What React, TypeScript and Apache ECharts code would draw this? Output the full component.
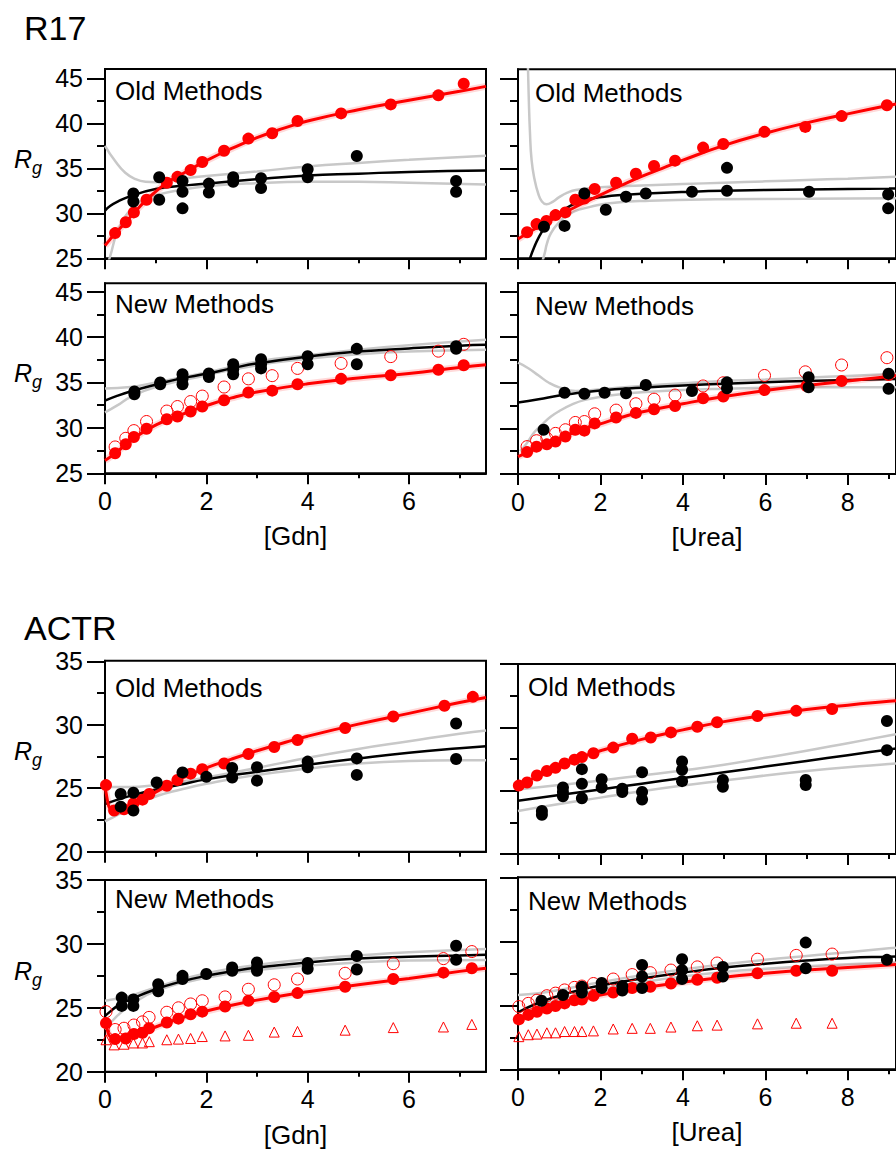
import React, { useEffect, useRef } from "react";
import * as echarts from "echarts";

const FONT = '"Liberation Sans", Arial, Helvetica, sans-serif';

// ---------- tick values ----------
const xMajorGdn = [0, 2, 4, 6];
const xMinorGdn = [1, 3, 5, 7];
const xMajorUrea = [0, 2, 4, 6, 8];
const xMinorUrea = [1, 3, 5, 7, 9];
const yMajorR17 = [25, 30, 35, 40, 45];
const yMinorR17 = [27.5, 32.5, 37.5, 42.5];
const yMajorACTR = [20, 25, 30, 35];
const yMinorACTR = [22.5, 27.5, 32.5];

// ---------- R17, Old Methods, [Gdn] ----------
const r17OldGdnBlack = [[0.56,32.2],[0.56,31.3],[1.07,34.0],[1.07,31.5],[1.53,33.6],[1.53,32.4],[1.53,30.55],[2.05,33.3],[2.05,32.3],[2.53,34.0],[2.53,33.5],[3.08,33.9],[3.08,32.8],[4.0,34.9],[4.0,34.0],[4.97,36.37],[6.93,33.6],[6.93,32.4]];
const r17OldGdnRed = [[0.2,27.8],[0.41,29.0],[0.57,30.1],[0.82,31.5],[1.22,33.4],[1.43,34.05],[1.69,34.8],[1.92,35.7],[2.35,36.95],[2.83,38.3],[3.3,38.9],[3.8,40.25],[4.66,41.1],[5.64,42.1],[6.58,43.1],[7.08,44.4]];
const r17OldGdnFitBlack = [[0,30.3],[0.1,30.8],[0.25,31.3],[0.5,31.9],[1,32.7],[1.5,33.05],[2,33.3],[3,33.8],[4,34.2],[5,34.4],[6,34.6],[7.52,34.75]];
const r17OldGdnFitRed = [[0,26.4],[0.1,27.1],[0.2,27.75],[0.4,28.95],[0.6,30.2],[0.8,31.4],[1,32.4],[1.25,33.5],[1.5,34.3],[2,35.85],[2.5,37.2],[3,38.4],[3.5,39.4],[4,40.25],[5,41.5],[6,42.55],[7,43.55],[7.52,44.1]];
const r17OldGdnHi = [[0,37.5],[0.2,35.8],[0.4,34.5],[0.6,33.8],[0.8,33.5],[1.0,33.45],[1.5,33.85],[2,34.15],[3,34.65],[4,35.2],[5,35.6],[6,35.95],[7.52,36.4]];
const r17OldGdnLo = [[0,23.5],[0.1,25.2],[0.25,28.0],[0.5,30.4],[0.75,31.5],[1,32.0],[1.5,32.6],[2,33.0],[3,33.35],[4,33.5],[5,33.5],[6,33.4],[7.52,33.2]];

// ---------- R17, New Methods, [Gdn] ----------
const r17NewGdnBlack = [[0.58,34.0],[0.58,33.7],[1.09,35.0],[1.09,34.8],[1.53,35.9],[1.53,35.4],[1.53,34.8],[2.05,36.0],[2.05,35.6],[2.53,37.0],[2.53,36.45],[2.53,35.9],[3.08,37.55],[3.08,37.0],[3.08,36.55],[4.0,37.9],[4.0,37.0],[4.97,38.7],[4.97,37.0],[6.93,39.0],[6.93,38.7]];
const r17NewGdnRed = [[0.2,27.2],[0.41,28.2],[0.57,29.0],[0.82,29.9],[1.22,30.95],[1.43,31.25],[1.69,31.8],[1.92,32.35],[2.35,33.05],[2.83,33.9],[3.3,34.1],[3.8,34.8],[4.66,35.4],[5.64,35.8],[6.58,36.4],[7.08,36.9]];
const r17NewGdnOpen = [[0.2,27.9],[0.41,28.85],[0.57,29.7],[0.82,30.7],[1.22,31.85],[1.43,32.35],[1.69,32.9],[1.92,33.5],[2.35,34.5],[2.83,35.4],[3.3,35.75],[3.8,36.55],[4.66,37.1],[5.64,37.85],[6.58,38.45],[7.08,39.2]];
const r17NewGdnFitBlack = [[0,33.0],[0.25,33.55],[0.5,34.0],[1,34.75],[1.5,35.45],[2,35.95],[2.5,36.55],[3,37.1],[4,37.85],[5,38.4],[6,38.75],[7,39.05],[7.52,39.15]];
const r17NewGdnFitRed = [[0,26.4],[0.2,27.2],[0.4,28.1],[0.6,28.95],[0.8,29.7],[1,30.3],[1.25,30.95],[1.5,31.45],[2,32.45],[2.5,33.3],[3,33.95],[4,34.85],[5,35.5],[6,36.0],[7,36.65],[7.52,36.95]];
const r17NewGdnHi = [[0,34.35],[0.5,34.5],[1,35.0],[2,36.1],[3,37.3],[4,38.0],[5,38.6],[6,39.1],[7.52,39.7]];
const r17NewGdnLo = [[0,31.7],[0.25,32.5],[0.5,33.4],[1,34.5],[2,35.8],[3,36.9],[4,37.6],[5,38.1],[6,38.4],[7.52,38.6]];

// ---------- R17, Old Methods, [Urea] ----------
const r17OldUreaBlack = [[0.63,28.5],[1.13,28.6],[1.61,32.2],[2.13,30.4],[2.62,31.85],[3.1,32.2],[4.22,32.4],[5.07,35.05],[5.07,32.5],[7.06,32.4],[8.98,32.1],[8.98,30.55]];
const r17OldUreaRed = [[0.22,27.9],[0.45,28.8],[0.69,29.15],[0.91,29.8],[1.15,30.1],[1.39,31.5],[1.61,31.65],[1.86,32.7],[2.38,33.4],[2.86,34.4],[3.3,35.25],[3.81,35.85],[4.49,37.3],[4.98,37.7],[5.98,39.05],[6.97,39.6],[7.85,40.8],[8.95,42.0]];
const r17OldUreaFitBlack = [[0.27,24.5],[0.3,25.1],[0.4,26.3],[0.5,27.3],[0.63,28.3],[0.8,29.3],[1.0,30.0],[1.3,30.9],[1.6,31.45],[2.1,31.85],[2.6,32.05],[3.1,32.2],[4.2,32.4],[5,32.5],[7,32.65],[9,32.75],[9.17,32.76]];
const r17OldUreaFitRed = [[0,27.15],[0.5,28.5],[1,29.75],[1.5,30.95],[2,32.05],[2.5,33.1],[3,34.1],[3.5,35.0],[4,35.9],[5,37.55],[6,38.9],[7,40.05],[8,41.05],[9,42.0],[9.17,42.15]];
const r17OldUreaHi = [[0.24,46.5],[0.26,43],[0.29,39],[0.33,35.9],[0.4,33.8],[0.49,32.2],[0.58,31.3],[0.69,31.0],[0.85,31.3],[1.0,31.8],[1.2,32.3],[1.4,32.6],[2,32.9],[3,33.1],[4,33.25],[5,33.4],[6,33.55],[7,33.7],[8,33.85],[9.17,34.05]];
const r17OldUreaLo = [[0.58,24.5],[0.65,25.6],[0.7,26.6],[0.8,27.8],[1.0,29.0],[1.2,29.8],[1.6,30.55],[2.4,31.2],[3.2,31.4],[4.8,31.55],[7,31.62],[9.17,31.68]];

// ---------- R17, New Methods, [Urea] ----------
const r17NewUreaBlack = [[0.62,29.85],[1.13,33.9],[1.61,33.8],[2.1,33.9],[2.62,33.85],[3.1,34.75],[4.22,34.1],[5.07,35.05],[5.07,34.4],[7.05,35.6],[7.05,34.5],[8.99,36.0],[8.99,34.35]];
const r17NewUreaRed = [[0.22,27.4],[0.45,28.0],[0.7,28.25],[0.91,28.55],[1.15,29.1],[1.39,29.85],[1.61,29.75],[1.86,30.55],[2.38,31.2],[2.86,31.7],[3.3,32.1],[3.81,32.45],[4.49,33.3],[4.98,33.5],[5.98,34.2],[7.0,34.65],[7.85,35.2],[8.99,35.85]];
const r17NewUreaOpen = [[0.22,28.0],[0.45,28.65],[0.7,28.9],[0.91,29.45],[1.15,29.85],[1.39,30.65],[1.61,30.75],[1.86,31.6],[2.38,32.0],[2.86,32.7],[3.3,33.2],[3.81,33.65],[4.49,34.65],[4.98,35.0],[5.98,35.8],[6.97,36.2],[7.85,36.95],[8.95,37.75]];
const r17NewUreaFitBlack = [[0,32.85],[0.5,33.2],[1,33.6],[1.5,33.9],[2,34.15],[3,34.45],[4,34.7],[5,34.9],[6,35.05],[7,35.2],[8,35.3],[9.17,35.42]];
const r17NewUreaFitRed = [[0,26.9],[0.25,27.4],[0.5,27.9],[1,28.9],[1.5,29.8],[2,30.5],[2.5,31.2],[3,31.8],[4,32.7],[5,33.5],[6,34.15],[7,34.7],[8,35.2],[9,35.7],[9.17,35.8]];
const r17NewUreaHi = [[0,37.2],[0.25,36.6],[0.5,35.8],[0.75,35.0],[1.0,34.5],[1.4,34.1],[2,34.3],[3,34.65],[4,34.95],[5,35.2],[6,35.35],[7,35.55],[8,35.75],[9.17,36.0]];
const r17NewUreaLo = [[0.05,27.5],[0.2,28.3],[0.4,29.6],[0.6,30.5],[0.8,31.3],[1.0,31.9],[1.3,32.6],[1.6,33.1],[2,33.45],[2.5,33.75],[3,33.95],[4,34.2],[5,34.35],[6,34.45],[7,34.5],[9.17,34.5]];

// ---------- ACTR, Old Methods, [Gdn] ----------
const actrOldGdnBlack = [[0.31,24.55],[0.31,23.55],[0.56,24.65],[0.56,23.25],[1.02,25.45],[1.53,26.25],[2.0,25.9],[2.51,26.6],[2.51,25.85],[3.0,26.65],[3.0,25.6],[4.0,27.1],[4.0,26.65],[4.97,27.35],[4.97,26.05],[6.93,30.1],[6.93,27.3]];
const actrOldGdnRed = [[0.02,25.25],[0.18,23.25],[0.375,23.35],[0.56,23.8],[0.74,24.1],[0.875,24.55],[1.22,25.2],[1.43,25.65],[1.69,26.15],[1.92,26.5],[2.35,26.95],[2.83,27.7],[3.34,28.25],[3.8,28.8],[4.74,29.75],[5.69,30.65],[6.7,31.5],[7.26,32.2]];
const actrOldGdnFitBlack = [[0,23.75],[0.25,24.1],[0.5,24.4],[1,24.9],[1.5,25.3],[2,25.7],[3,26.3],[4,26.85],[5,27.35],[6,27.8],[7,28.15],[7.52,28.3]];
const actrOldGdnFitRed = [[0,25.3],[0.05,24.0],[0.1,23.4],[0.2,23.15],[0.3,23.2],[0.5,23.6],[0.75,24.15],[1,24.7],[1.5,25.75],[2,26.6],[2.5,27.3],[3,27.95],[3.5,28.55],[4,29.1],[5,30.05],[6,30.9],[7,31.75],[7.52,32.15]];
const actrOldGdnHi = [[0,25.1],[0.5,25.1],[1,25.25],[1.5,25.5],[2,25.85],[3,26.6],[4,27.4],[5,28.1],[6,28.7],[7,29.3],[7.52,29.55]];
const actrOldGdnLo = [[0,22.4],[0.25,22.9],[0.5,23.5],[1,24.35],[1.5,24.9],[2,25.35],[3,26.05],[4,26.55],[5,26.95],[6,27.15],[7,27.2],[7.52,27.2]];

// ---------- ACTR, Old Methods, [Urea] ----------
const actrOldUreaBlack = [[0.58,23.4],[0.58,23.1],[1.09,25.25],[1.09,24.9],[1.09,24.55],[1.55,26.7],[1.55,25.55],[1.55,24.4],[2.03,25.9],[2.03,25.25],[2.53,25.15],[2.53,24.9],[3.01,26.45],[3.01,24.9],[3.01,24.3],[3.98,27.3],[3.98,26.65],[3.98,25.75],[4.97,25.85],[4.97,25.3],[6.98,25.85],[6.98,25.45],[8.95,30.5],[8.95,28.2]];
const actrOldUreaRed = [[0.02,25.4],[0.22,25.65],[0.46,26.2],[0.7,26.55],[0.91,26.8],[1.13,27.15],[1.37,27.45],[1.55,27.65],[1.83,27.95],[2.31,28.4],[2.77,29.1],[3.22,29.2],[3.71,29.6],[4.35,30.05],[4.83,30.4],[5.81,30.9],[6.75,31.3],[7.62,31.45]];
const actrOldUreaFitBlack = [[0,24.2],[1,24.65],[2,25.1],[3,25.55],[4,26.0],[5,26.45],[6,26.9],[7,27.35],[8,27.8],[9,28.25],[9.17,28.33]];
const actrOldUreaFitRed = [[0,25.3],[0.5,26.2],[1,26.95],[1.5,27.6],[2,28.15],[3,29.05],[4,29.8],[5,30.45],[6,30.95],[7,31.4],[8,31.75],[9,32.05],[9.17,32.1]];
const actrOldUreaHi = [[0,25.1],[1,25.45],[2,25.8],[3,26.2],[4,26.6],[5,27.05],[6,27.6],[7,28.15],[8,28.75],[9,29.35],[9.17,29.45]];
const actrOldUreaLo = [[0,23.4],[1,23.95],[2,24.45],[3,24.95],[4,25.4],[5,25.8],[6,26.2],[7,26.55],[8,26.85],[9,27.1],[9.17,27.15]];

// ---------- ACTR, New Methods, [Gdn] ----------
const actrNewGdnBlack = [[0.33,25.8],[0.33,25.15],[0.56,25.65],[0.56,25.15],[1.05,26.85],[1.05,26.3],[1.53,27.5],[1.53,27.25],[2.0,27.65],[2.51,28.15],[2.51,27.9],[3.0,28.55],[3.0,28.15],[3.0,27.9],[4.0,28.5],[4.0,28.05],[4.97,29.05],[4.97,28.0],[6.93,29.85],[6.93,28.75]];
const actrNewGdnRed = [[0.02,23.8],[0.2,22.55],[0.41,22.6],[0.57,22.95],[0.74,23.05],[0.87,23.4],[1.22,23.85],[1.45,24.15],[1.69,24.5],[1.92,24.7],[2.37,25.1],[2.83,25.55],[3.34,25.85],[3.8,26.15],[4.74,26.65],[5.69,27.25],[6.68,27.75],[7.24,28.1]];
const actrNewGdnOpen = [[0.02,24.7],[0.2,23.3],[0.375,23.4],[0.57,23.65],[0.74,23.9],[0.87,24.25],[1.22,24.65],[1.45,25.0],[1.69,25.3],[1.92,25.55],[2.37,25.85],[2.83,26.45],[3.34,26.8],[3.8,27.25],[4.74,27.7],[5.69,28.45],[6.68,28.85],[7.24,29.4]];
const actrNewGdnTri = [[0.02,22.5],[0.18,22.1],[0.375,22.15],[0.56,22.25],[0.74,22.25],[0.875,22.35],[1.22,22.5],[1.45,22.55],[1.69,22.6],[1.92,22.75],[2.37,22.8],[2.83,22.85],[3.34,23.1],[3.8,23.15],[4.74,23.25],[5.69,23.45],[6.68,23.5],[7.24,23.7]];
const actrNewGdnFitBlack = [[0,24.35],[0.1,24.7],[0.25,25.15],[0.5,25.65],[1,26.45],[1.5,27.05],[2,27.5],[2.5,27.85],[3,28.15],[4,28.55],[5,28.85],[6,29.0],[7,29.1],[7.52,29.15]];
const actrNewGdnFitRed = [[0,23.9],[0.05,23.2],[0.1,22.75],[0.2,22.6],[0.4,22.7],[0.6,22.9],[0.8,23.2],[1,23.5],[1.5,24.2],[2,24.75],[2.5,25.2],[3,25.6],[3.5,25.95],[4,26.25],[5,26.8],[6,27.3],[7,27.85],[7.52,28.1]];
const actrNewGdnHi = [[0,25.55],[0.5,25.95],[1,26.6],[2,27.7],[3,28.35],[4,28.8],[5,29.1],[6,29.35],[7.52,29.6]];
const actrNewGdnLo = [[0,23.3],[0.25,24.4],[0.5,25.2],[1,26.3],[2,27.35],[3,27.95],[4,28.3],[5,28.55],[6,28.7],[7.52,28.75]];

// ---------- ACTR, New Methods, [Urea] ----------
const actrNewUreaBlack = [[0.57,25.35],[1.09,25.8],[1.55,26.45],[1.55,26.0],[2.03,26.75],[2.03,26.35],[2.53,26.5],[2.53,26.15],[3.01,28.15],[3.01,27.25],[3.01,26.35],[3.98,28.6],[3.98,27.75],[3.98,27.05],[4.97,28.0],[4.97,27.25],[6.98,29.9],[6.98,27.9],[8.95,28.55]];
const actrNewUreaRed = [[0.02,23.9],[0.25,24.25],[0.46,24.5],[0.7,24.75],[0.91,24.95],[1.13,25.15],[1.37,25.4],[1.55,25.45],[1.83,25.75],[2.31,26.0],[2.77,26.35],[3.21,26.45],[3.71,26.7],[4.35,27.0],[4.83,27.15],[5.81,27.5],[6.75,27.7],[7.62,27.7]];
const actrNewUreaOpen = [[0.02,24.9],[0.25,25.15],[0.46,25.4],[0.7,25.75],[0.91,25.95],[1.13,26.2],[1.37,26.4],[1.55,26.5],[1.83,26.7],[2.31,27.05],[2.77,27.4],[3.21,27.55],[3.71,27.75],[4.35,28.0],[4.83,28.3],[5.81,28.6],[6.75,28.9],[7.62,29.0]];
const actrNewUreaTri = [[0.02,22.55],[0.25,22.7],[0.46,22.75],[0.7,22.85],[0.91,22.85],[1.13,22.95],[1.37,22.95],[1.55,22.95],[1.83,23.0],[2.31,23.15],[2.77,23.2],[3.21,23.2],[3.71,23.3],[4.35,23.4],[4.83,23.45],[5.81,23.55],[6.75,23.6],[7.62,23.6]];
const actrNewUreaFitBlack = [[0,24.45],[0.5,25.2],[1,25.75],[1.5,26.2],[2,26.55],[3,27.1],[4,27.55],[5,27.95],[6,28.25],[7,28.5],[8,28.7],[9,28.8],[9.17,28.82]];
const actrNewUreaFitRed = [[0,23.7],[0.25,24.2],[0.5,24.5],[1,25.0],[1.5,25.4],[2,25.8],[3,26.35],[4,26.8],[5,27.2],[6,27.5],[7,27.75],[8,27.95],[9,28.15],[9.17,28.18]];
const actrNewUreaHi = [[0,25.8],[0.5,25.95],[1,26.2],[2,26.8],[3,27.35],[4,27.8],[5,28.2],[6,28.55],[7,28.85],[8,29.15],[9,29.45],[9.17,29.5]];
const actrNewUreaLo = [[0,23.5],[0.25,24.4],[0.5,24.9],[1,25.45],[2,26.25],[3,26.8],[4,27.25],[5,27.6],[6,27.85],[7,28.05],[8,28.2],[9,28.3],[9.17,28.32]];

// ---------- panel layout ----------
type Panel = {
  left: number; top: number; width: number; height: number;
  xmax: number; ymin: number; ymax: number;
  xMajor: number[]; xMinor: number[]; yMajor: number[]; yMinor: number[];
  showX: boolean; showY: boolean; xName: string; label: string; labelX: number; labelY: number;
  black: number[][]; red: number[][]; open?: number[][]; tri?: number[][];
  fitBlack: number[][]; fitRed: number[][]; hi: number[][]; lo: number[][];
};

const panels: Panel[] = [
  { left: 105, top: 69, width: 381, height: 189.3, xmax: 7.52, ymin: 25, ymax: 46.03, xMajor: xMajorGdn, xMinor: xMinorGdn, yMajor: yMajorR17, yMinor: yMinorR17, showX: false, showY: true, xName: "", label: "Old Methods", labelX: 115, labelY: 91,
    black: r17OldGdnBlack, red: r17OldGdnRed, fitBlack: r17OldGdnFitBlack, fitRed: r17OldGdnFitRed, hi: r17OldGdnHi, lo: r17OldGdnLo },
  { left: 518, top: 69.3, width: 382, height: 189, xmax: 9.17, ymin: 25, ymax: 46.0, xMajor: xMajorUrea, xMinor: xMinorUrea, yMajor: yMajorR17, yMinor: yMinorR17, showX: false, showY: false, xName: "", label: "Old Methods", labelX: 535, labelY: 92.5,
    black: r17OldUreaBlack, red: r17OldUreaRed, fitBlack: r17OldUreaFitBlack, fitRed: r17OldUreaFitRed, hi: r17OldUreaHi, lo: r17OldUreaLo },
  { left: 105, top: 283.3, width: 381, height: 190, xmax: 7.52, ymin: 25, ymax: 45.92, xMajor: xMajorGdn, xMinor: xMinorGdn, yMajor: yMajorR17, yMinor: yMinorR17, showX: true, showY: true, xName: "[Gdn]", label: "New Methods", labelX: 115, labelY: 304,
    black: r17NewGdnBlack, red: r17NewGdnRed, open: r17NewGdnOpen, fitBlack: r17NewGdnFitBlack, fitRed: r17NewGdnFitRed, hi: r17NewGdnHi, lo: r17NewGdnLo },
  { left: 518, top: 283, width: 382, height: 191, xmax: 9.17, ymin: 25, ymax: 45.94, xMajor: xMajorUrea, xMinor: xMinorUrea, yMajor: yMajorR17, yMinor: yMinorR17, showX: true, showY: false, xName: "[Urea]", label: "New Methods", labelX: 535, labelY: 306,
    black: r17NewUreaBlack, red: r17NewUreaRed, open: r17NewUreaOpen, fitBlack: r17NewUreaFitBlack, fitRed: r17NewUreaFitRed, hi: r17NewUreaHi, lo: r17NewUreaLo },
  { left: 105, top: 660.7, width: 381, height: 191, xmax: 7.52, ymin: 20, ymax: 35.05, xMajor: xMajorGdn, xMinor: xMinorGdn, yMajor: yMajorACTR, yMinor: yMinorACTR, showX: false, showY: true, xName: "", label: "Old Methods", labelX: 115, labelY: 688,
    black: actrOldGdnBlack, red: actrOldGdnRed, fitBlack: actrOldGdnFitBlack, fitRed: actrOldGdnFitRed, hi: actrOldGdnHi, lo: actrOldGdnLo },
  { left: 518, top: 664, width: 382, height: 190, xmax: 9.17, ymin: 20, ymax: 35, xMajor: xMajorUrea, xMinor: xMinorUrea, yMajor: yMajorACTR, yMinor: yMinorACTR, showX: false, showY: false, xName: "", label: "Old Methods", labelX: 528, labelY: 686.5,
    black: actrOldUreaBlack, red: actrOldUreaRed, fitBlack: actrOldUreaFitBlack, fitRed: actrOldUreaFitRed, hi: actrOldUreaHi, lo: actrOldUreaLo },
  { left: 105, top: 880, width: 381, height: 191.7, xmax: 7.52, ymin: 20, ymax: 35, xMajor: xMajorGdn, xMinor: xMinorGdn, yMajor: yMajorACTR, yMinor: yMinorACTR, showX: true, showY: true, xName: "[Gdn]", label: "New Methods", labelX: 115, labelY: 899,
    black: actrNewGdnBlack, red: actrNewGdnRed, open: actrNewGdnOpen, tri: actrNewGdnTri, fitBlack: actrNewGdnFitBlack, fitRed: actrNewGdnFitRed, hi: actrNewGdnHi, lo: actrNewGdnLo },
  { left: 518, top: 877.3, width: 382, height: 192, xmax: 9.17, ymin: 20, ymax: 35, xMajor: xMajorUrea, xMinor: xMinorUrea, yMajor: yMajorACTR, yMinor: yMinorACTR, showX: true, showY: false, xName: "[Urea]", label: "New Methods", labelX: 528, labelY: 901,
    black: actrNewUreaBlack, red: actrNewUreaRed, open: actrNewUreaOpen, tri: actrNewUreaTri, fitBlack: actrNewUreaFitBlack, fitRed: actrNewUreaFitRed, hi: actrNewUreaHi, lo: actrNewUreaLo },
];

const BLACK = "#000000";
const RED = "#ff0000";
const GRAY = "#c8c8c8";

function buildOption() {
  const grid: any[] = [];
  const xAxis: any[] = [];
  const yAxis: any[] = [];
  const series: any[] = [];
  const graphic: any[] = [];

  panels.forEach((p, i) => {
    grid.push({ left: p.left, top: p.top, width: p.width, height: p.height, show: true, borderColor: BLACK, borderWidth: 2, backgroundColor: "transparent" });
    const axLine = { show: true, onZero: false, lineStyle: { color: BLACK, width: 2 } };
    xAxis.push({
      gridIndex: i, type: "value", min: 0, max: p.xmax, position: "bottom",
      axisLine: axLine,
      axisTick: { show: true, length: 11, lineStyle: { color: BLACK, width: 2 }, customValues: p.xMajor },
      axisLabel: { show: p.showX, customValues: p.xMajor, margin: 15, fontSize: 25, color: BLACK, fontFamily: FONT },
      splitLine: { show: false },
      name: p.xName, nameLocation: "middle", nameGap: 50,
      nameTextStyle: { fontSize: 26, color: BLACK, fontFamily: FONT },
    });
    xAxis.push({
      gridIndex: i, type: "value", min: 0, max: p.xmax, position: "bottom",
      axisLine: { show: false },
      axisTick: { show: true, length: 5, lineStyle: { color: BLACK, width: 2 }, customValues: p.xMinor },
      axisLabel: { show: false }, splitLine: { show: false },
    });
    yAxis.push({
      gridIndex: i, type: "value", min: p.ymin, max: p.ymax, position: "left",
      axisLine: axLine,
      axisTick: { show: true, length: 18, lineStyle: { color: BLACK, width: 2 }, customValues: p.yMajor },
      axisLabel: { show: p.showY, customValues: p.yMajor, margin: 22, fontSize: 25, color: BLACK, fontFamily: FONT },
      splitLine: { show: false },
    });
    yAxis.push({
      gridIndex: i, type: "value", min: p.ymin, max: p.ymax, position: "left",
      axisLine: { show: false },
      axisTick: { show: true, length: 8, lineStyle: { color: BLACK, width: 2 }, customValues: p.yMinor },
      axisLabel: { show: false }, splitLine: { show: false },
    });

    const xi = 2 * i;
    const line = (data: number[][], color: string, width: number, z: number) => ({
      type: "line", xAxisIndex: xi, yAxisIndex: xi, data, symbol: "none", showSymbol: false,
      smooth: 0.5, clip: true, silent: true, z,
      lineStyle: { color, width },
    });
    series.push(line(p.hi, GRAY, 2.5, 2));
    series.push(line(p.lo, GRAY, 2.5, 2));
    series.push(line(p.fitBlack, BLACK, 2.5, 3));
    series.push(line(p.fitRed, "rgba(255,0,0,0.15)", 7, 3));
    series.push(line(p.fitRed, RED, 3, 4));
    if (p.tri) {
      series.push({ type: "scatter", xAxisIndex: xi, yAxisIndex: xi, data: p.tri, symbol: "triangle", symbolSize: 10, z: 5, silent: true,
        itemStyle: { color: "rgba(255,255,255,0)", borderColor: RED, borderWidth: 1, opacity: 1 } });
    }
    if (p.open) {
      series.push({ type: "scatter", xAxisIndex: xi, yAxisIndex: xi, data: p.open, symbol: "circle", symbolSize: 12, z: 5, silent: true,
        itemStyle: { color: "rgba(255,255,255,0)", borderColor: RED, borderWidth: 1, opacity: 1 } });
    }
    series.push({ type: "scatter", xAxisIndex: xi, yAxisIndex: xi, data: p.red, symbol: "circle", symbolSize: 12, z: 6, silent: true,
      itemStyle: { color: RED, opacity: 1 } });
    series.push({ type: "scatter", xAxisIndex: xi, yAxisIndex: xi, data: p.black, symbol: "circle", symbolSize: 12, z: 7, silent: true,
      itemStyle: { color: BLACK, opacity: 1 } });

    graphic.push({ type: "text", x: p.labelX, y: p.labelY, z: 20,
      style: { text: p.label, fontSize: 26, fontFamily: FONT, fill: BLACK, align: "left", verticalAlign: "middle" } });

    if (p.showY) {
      const cy = p.top + p.height / 2;
      graphic.push({ type: "text", x: 14, y: cy - 5, z: 20,
        style: { text: "R", fontSize: 25, fontStyle: "italic", fontFamily: FONT, fill: BLACK, align: "left", verticalAlign: "middle" } });
      graphic.push({ type: "text", x: 32, y: cy + 4, z: 20,
        style: { text: "g", fontSize: 18, fontStyle: "italic", fontFamily: FONT, fill: BLACK, align: "left", verticalAlign: "middle" } });
    }
  });

  graphic.push({ type: "text", x: 24, y: 27.5, z: 20,
    style: { text: "R17", fontSize: 34, fontFamily: FONT, fill: BLACK, align: "left", verticalAlign: "middle" } });
  graphic.push({ type: "text", x: 24, y: 627.5, z: 20,
    style: { text: "ACTR", fontSize: 34, fontFamily: FONT, fill: BLACK, align: "left", verticalAlign: "middle" } });

  return {
    animation: false,
    backgroundColor: "#ffffff",
    grid, xAxis, yAxis, series, graphic,
  };
}

export default function App() {
  const ref = useRef<HTMLDivElement>(null);
  useEffect(() => {
    if (!ref.current) return;
    const chart = echarts.init(ref.current, undefined, { renderer: "svg" });
    chart.setOption(buildOption() as any);
    return () => chart.dispose();
  }, []);
  return (
    <div
      ref={ref}
      style={{ position: "absolute", left: 0, top: 0, width: 896, height: 1149, background: "#fff" }}
    />
  );
}
